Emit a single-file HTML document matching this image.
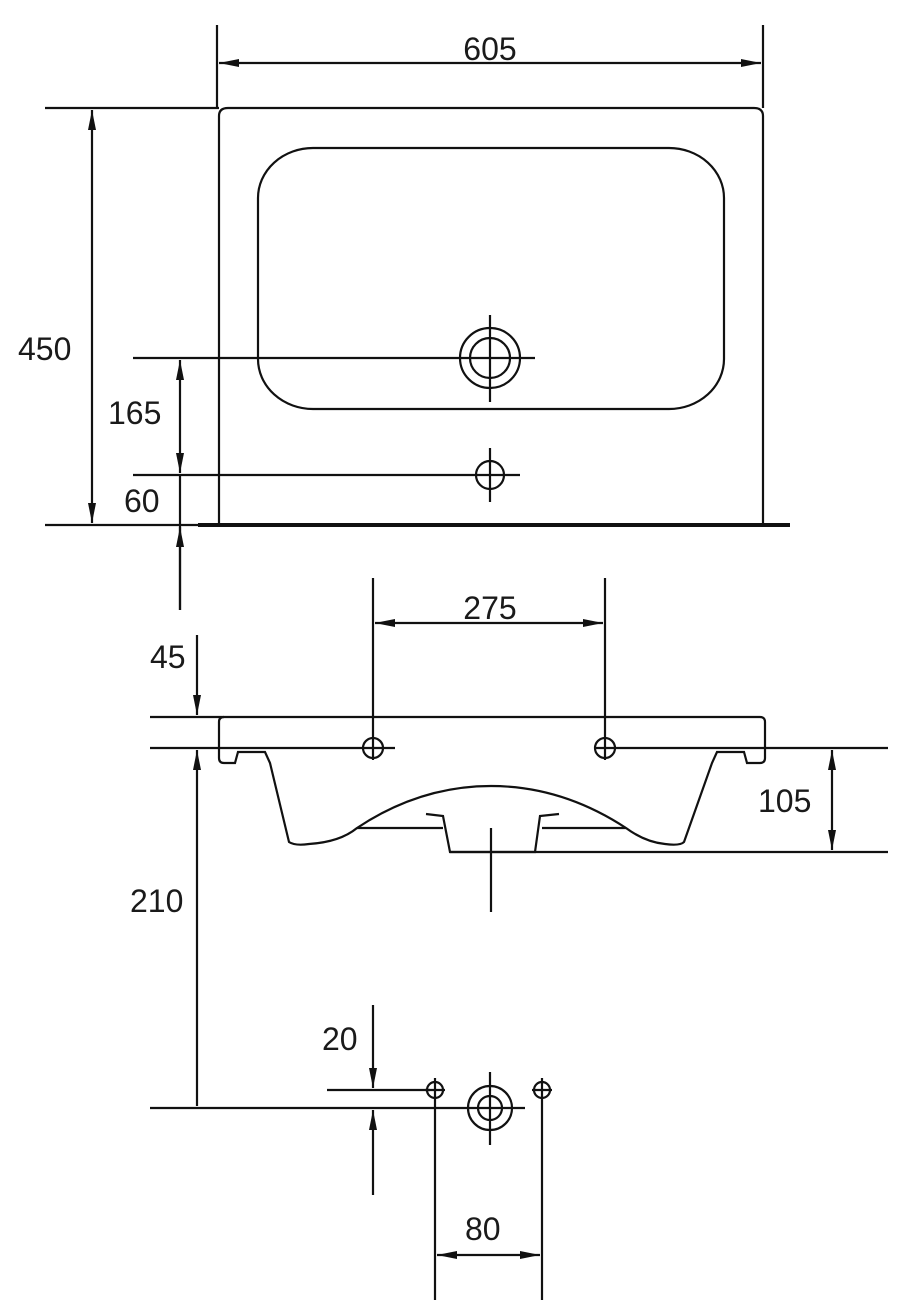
<!DOCTYPE html>
<html><head><style>html,body{margin:0;padding:0;background:#fff}svg{display:block}text{font-family:"Liberation Sans",sans-serif;font-size:32px;fill:#1a1a1a}</style></head>
<body>
<svg width="903" height="1309" viewBox="0 0 903 1309" xmlns="http://www.w3.org/2000/svg">
<defs>
<marker id="a" viewBox="0 0 20 10" refX="20" refY="5" markerWidth="20" markerHeight="10" markerUnits="userSpaceOnUse" orient="auto-start-reverse"><path d="M0,1 L20,5 L0,9 Z" fill="#111"/></marker>
</defs>
<g stroke="#111" stroke-width="2.2" fill="none">
<line x1="217" y1="25" x2="217" y2="108"/><line x1="763" y1="25" x2="763" y2="108"/>
<line x1="219" y1="63" x2="761" y2="63" marker-start="url(#a)" marker-end="url(#a)"/>
<path d="M219,523 L219,116 Q219,108 228,108 L754,108 Q763,108 763,116 L763,523"/>
<line x1="198" y1="525" x2="790" y2="525" stroke-width="4"/>
<rect x="258" y="148" width="466" height="261" rx="55" ry="50"/>
<circle cx="490" cy="358" r="30"/><circle cx="490" cy="358" r="20"/>
<line x1="490" y1="315" x2="490" y2="402"/>
<line x1="133" y1="358" x2="535" y2="358"/>
<circle cx="490" cy="475" r="14"/>
<line x1="490" y1="448" x2="490" y2="502"/>
<line x1="133" y1="475" x2="520" y2="475"/>
<line x1="45" y1="108" x2="219" y2="108"/>
<line x1="45" y1="525" x2="198" y2="525"/>
<line x1="92" y1="110" x2="92" y2="523" marker-start="url(#a)" marker-end="url(#a)"/>
<line x1="180" y1="360" x2="180" y2="473" marker-start="url(#a)" marker-end="url(#a)"/>
<line x1="180" y1="475" x2="180" y2="610"/>
<line x1="180" y1="610" x2="180" y2="527" marker-end="url(#a)"/>
<line x1="373" y1="578" x2="373" y2="760"/><line x1="605" y1="578" x2="605" y2="760"/>
<line x1="375" y1="623" x2="603" y2="623" marker-start="url(#a)" marker-end="url(#a)"/>
<line x1="150" y1="717" x2="760" y2="717"/>
<path d="M219,748 L219,758 Q219,763 224,763 L235,763 L238,752 L265,752 L270,763 L289,842 Q295,846 309,844 Q340,842 357,828 Q420,786 491,786 Q562,786 626,828 Q645,842 665,844 Q680,846 684,842 L712,763 L717,752 L744,752 L747,763 L760,763 Q765,763 765,758 L765,722 Q765,717 760,717"/>
<path d="M219,748 L219,722 Q219,717 224,717"/>
<line x1="357" y1="828" x2="443" y2="828"/><line x1="542" y1="828" x2="626" y2="828"/>
<path d="M426,814 L443,816 L450,852 L535,852 L540,816 L559,814"/>
<line x1="450" y1="852" x2="888" y2="852"/>
<line x1="491" y1="828" x2="491" y2="912"/>
<line x1="150" y1="748" x2="395" y2="748"/><line x1="595" y1="748" x2="888" y2="748"/>
<circle cx="373" cy="748" r="10"/><circle cx="605" cy="748" r="10"/>
<line x1="197" y1="635" x2="197" y2="715" marker-end="url(#a)"/>
<line x1="197" y1="1106" x2="197" y2="750" marker-end="url(#a)"/>
<line x1="832" y1="750" x2="832" y2="850" marker-start="url(#a)" marker-end="url(#a)"/>
<line x1="150" y1="1108" x2="525" y2="1108"/>
<line x1="327" y1="1090" x2="430" y2="1090"/>
<circle cx="435" cy="1090" r="8"/><line x1="425" y1="1090" x2="445" y2="1090"/><line x1="435" y1="1078" x2="435" y2="1300"/>
<circle cx="542" cy="1090" r="8"/><line x1="532" y1="1090" x2="552" y2="1090"/><line x1="542" y1="1078" x2="542" y2="1300"/>
<circle cx="490" cy="1108" r="22"/><circle cx="490" cy="1108" r="12"/>
<line x1="490" y1="1072" x2="490" y2="1145"/>
<line x1="373" y1="1005" x2="373" y2="1088" marker-end="url(#a)"/>
<line x1="373" y1="1195" x2="373" y2="1110" marker-end="url(#a)"/>
<line x1="437" y1="1255" x2="540" y2="1255" marker-start="url(#a)" marker-end="url(#a)"/>
</g>
<text x="490" y="60" text-anchor="middle">605</text>
<text x="18" y="360">450</text>
<text x="108" y="424">165</text>
<text x="124" y="512">60</text>
<text x="490" y="619" text-anchor="middle">275</text>
<text x="150" y="668">45</text>
<text x="130" y="912">210</text>
<text x="758" y="812">105</text>
<text x="322" y="1050">20</text>
<text x="465" y="1240">80</text>
</svg>
</body></html>
